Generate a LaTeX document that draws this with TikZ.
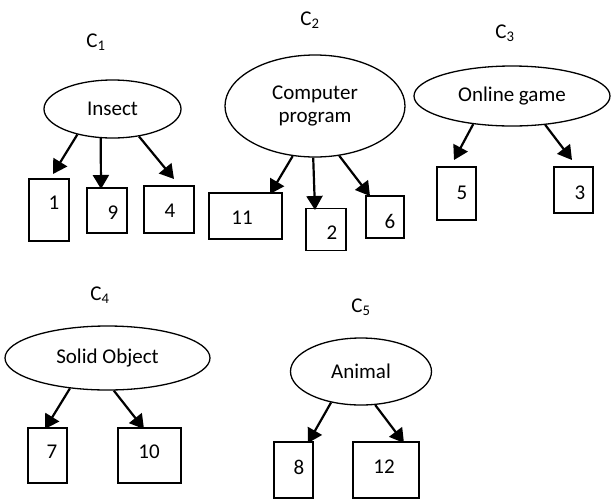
\documentclass[tikz,border=0pt]{standalone}
\usepackage{fontspec}
\setmainfont{Carlito}
\usetikzlibrary{arrows.meta,shapes.geometric}
\begin{document}
\begin{tikzpicture}[x=1pt,y=-1pt,
  every node/.style={font=\fontsize{21}{24}\selectfont},
  oval/.style={ellipse,draw,line width=1.3pt,inner sep=0pt,align=center},
  box/.style={rectangle,draw,line width=1.6pt,inner sep=0pt},
  num/.style={inner sep=0pt},
  clabel/.style={inner sep=0pt},
  arr/.style={line width=2.2pt,-{Triangle[length=14pt,width=16pt]}}]
\useasboundingbox (0,0) rectangle (611,499);

% C1
\node[clabel] (c1) at (96,42) {C\textsubscript{1}};
\node[oval,minimum width=137,minimum height=58] (ins) at (112.5,109) {Insect};
\node[box,minimum width=40,minimum height=62] (b1) at (49,210) {};
\node[num] (n1) at (54,203) {1};
\node[box,minimum width=40,minimum height=45] (b9) at (107,210.5) {};
\node[num] (n9) at (113,213) {9};
\node[box,minimum width=50,minimum height=47] (b4) at (169,209.5) {};
\node[num] (n4) at (170,211) {4};
\coordinate (t1) at (53,174);
\coordinate (t9) at (101,189);
\coordinate (t4) at (174,179);
\draw[arr] (ins.216) -- (t1);
\draw[arr] (ins.248) -- (t9);
\draw[arr] (ins.314) -- (t4);

% C2
\node[clabel] (c2) at (310,20) {C\textsubscript{2}};
\node[oval,minimum width=180,minimum height=102] (comp) at (315,106) {Computer\\[-1pt]program};
\node[box,minimum width=73,minimum height=46] (b11) at (245.5,216) {};
\node[num] (n11) at (242,218) {11};
\node[box,minimum width=40,minimum height=42] (b2) at (326,229.5) {};
\node[num] (n2) at (332,233) {2};
\node[box,minimum width=38,minimum height=42] (b6) at (385,217) {};
\node[num] (n6) at (390,221) {6};
\coordinate (t11) at (270,194);
\coordinate (t2) at (315,210);
\coordinate (t6) at (370,196);
\draw[arr] (comp.246) -- (t11);
\draw[arr] (comp.268) -- (t2);
\draw[arr] (comp.296) -- (t6);

% C3
\node[clabel] (c3) at (505,33) {C\textsubscript{3}};
\node[oval,minimum width=196,minimum height=60] (game) at (512,96) {Online game};
\node[box,minimum width=39,minimum height=53] (b5) at (456.5,193.5) {};
\node[num] (n5) at (462,193) {5};
\node[box,minimum width=39,minimum height=46] (b3) at (573.5,190) {};
\node[num] (n3) at (580,193) {3};
\coordinate (t5) at (454,160);
\coordinate (t3) at (572,160);
\draw[arr] (game.216) -- (t5);
\draw[arr] (game.319) -- (t3);

% C4
\node[clabel] (c4) at (100,295) {C\textsubscript{4}};
\node[oval,minimum width=205,minimum height=64] (solid) at (107.5,358) {Solid Object};
\node[box,minimum width=39,minimum height=55] (b7) at (47.5,455.5) {};
\node[num] (n7) at (52,452) {7};
\node[box,minimum width=63,minimum height=55] (b10) at (149.5,455.5) {};
\node[num] (n10) at (149,452) {10};
\coordinate (t7) at (45,429);
\coordinate (t10) at (144,429);
\draw[arr] (solid.219) -- (t7);
\draw[arr] (solid.281) -- (t10);

% C5
\node[clabel] (c5) at (361,307) {C\textsubscript{5}};
\node[oval,minimum width=141,minimum height=67] (anim) at (361,371.5) {Animal};
\node[box,minimum width=39,minimum height=56] (b8) at (293.5,470) {};
\node[num] (n8) at (299,467) {8};
\node[box,minimum width=66,minimum height=56] (b12) at (386,470) {};
\node[num] (n12) at (384,467) {12};
\coordinate (t8) at (308,443);
\coordinate (t12) at (404,443);
\draw[arr] (anim.226) -- (t8);
\draw[arr] (anim.293) -- (t12);
\end{tikzpicture}
\end{document}
